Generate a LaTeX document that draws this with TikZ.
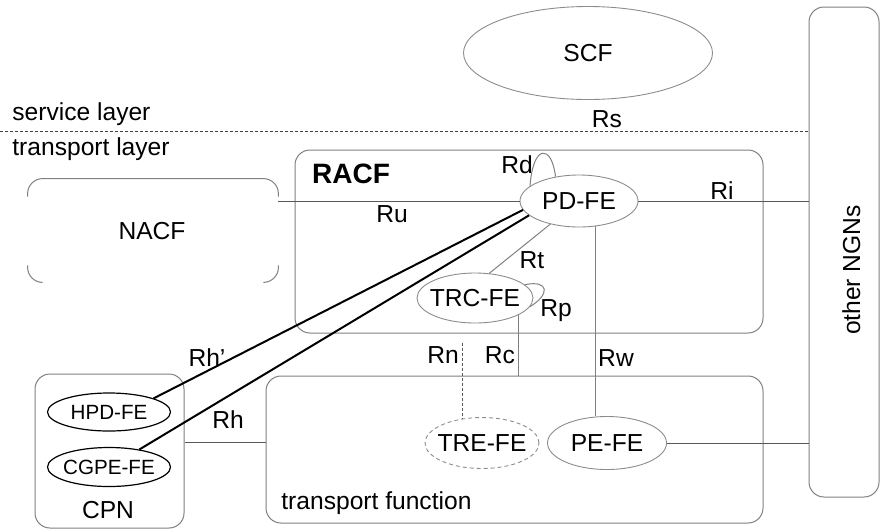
\documentclass[tikz,border=0pt]{standalone}
\usepackage{fontspec}
\setmainfont{Liberation Sans}
\usetikzlibrary{positioning, shapes.geometric}

\begin{document}
\begin{tikzpicture}[
        x=0.5pt, y=-0.5pt,
        % Function blocks (thin gray frame, rounded)
        fbox/.style={
            rectangle, draw=gray, line width=0.5pt,
            rounded corners=7.5pt, inner sep=0pt
        },
        frame/.style={draw=gray, line width=0.5pt, rounded corners=7.5pt},
        % Functional entities
        fe/.style={
            ellipse, draw=gray!90, line width=0.45pt,
            inner xsep=-5pt, inner ysep=0pt,
            font=\fontsize{12.3}{14}\selectfont
        },
        % Entities inside the CPN (black, smaller text)
        cpe/.style={
            ellipse, draw=black, line width=0.6pt,
            inner xsep=-5pt, inner ysep=0pt,
            font=\fontsize{10.3}{12}\selectfont
        },
        % Reference points
        link/.style={draw=black!65, line width=0.5pt},
        thicklink/.style={draw=black, line width=1pt},
        lbl/.style={anchor=base, inner sep=0pt, font=\fontsize{12.3}{14}\selectfont}
    ]
        \useasboundingbox (0,0) rectangle (881,531);

        % Blocks
        \node[fbox, minimum width=35pt, minimum height=245pt] (ngn) at (844,252) {};
        \node[fbox, minimum width=234pt, minimum height=91.5pt] (racf) at (529,241.5) {};
        \node[fbox, minimum width=248.5pt, minimum height=73.5pt] (tf) at (514.5,449.5) {};
        \node[fbox, minimum width=74.5pt, minimum height=77pt] (cpn) at (109.5,451) {};
        \node[minimum width=125pt, minimum height=51.5pt, inner sep=0pt] (nacf) at (153,230.5) {};

        % NACF frame (only partly printed)
        \draw[frame] ([yshift=-9pt]nacf.north west) -- (nacf.north west)
            -- (nacf.north east) -- ([yshift=-9pt]nacf.north east);
        \draw[frame] ([yshift=8.5pt]nacf.south west) -- (nacf.south west)
            -- ([xshift=7.5pt]nacf.south west);
        \draw[frame] ([xshift=-7.5pt]nacf.south east) -- (nacf.south east)
            -- ([yshift=8.5pt]nacf.south east);

        % Layer labels and border
        \node[lbl, anchor=base west] (service) at (12,120) {service layer};
        \node[lbl, anchor=base west] (transport) at (12,155) {transport layer};
        \coordinate (layer) at (0,131);
        \draw[draw=black!75, line width=0.4pt, dash pattern=on 1.5pt off 1pt]
            (layer) -- (layer -| ngn.west);

        % Block names
        \node[lbl, rotate=90] (ngnname) at (860,270) {other NGNs};
        \node[lbl, font=\fontsize{14}{16}\selectfont\bfseries] (racfname) at (351,183) {RACF};
        \node[lbl] (nacfname) at (152,239) {NACF};
        \node[lbl, anchor=base west] (tfname) at (281,509) {transport function};
        \node[lbl] (cpnname) at (108,518) {CPN};

        % Functional entities
        \node[fe, minimum width=124.5pt, minimum height=46.5pt] (scf) at (588,53) {SCF};
        \node[fe, minimum width=59pt, minimum height=26pt] (pdfe) at (579,201) {PD-FE};
        \node[fe, minimum width=58pt, minimum height=25pt] (trcfe) at (475,298) {TRC-FE};
        \node[fe, dash pattern=on 2pt off 1.5pt, minimum width=57pt, minimum height=25.5pt] (trefe) at (482,443) {TRE-FE};
        \node[fe, minimum width=59.5pt, minimum height=26.5pt] (pefe) at (607,443) {PE-FE};
        \node[cpe, minimum width=61.5pt, minimum height=19pt] (hpdfe) at (109,412) {HPD-FE};
        \node[cpe, minimum width=61.5pt, minimum height=19.5pt] (cgpefe) at (109,467) {CGPE-FE};

        % Connections
        \draw[link] (pdfe.west) -- (pdfe.west -| nacf.east);
        \draw[link] (pdfe.east) -- (pdfe.east -| ngn.west);
        \draw[link] (pefe.east) -- (pefe.east -| ngn.west);
        \draw[link, draw=gray] (pdfe) -- (trcfe.60);
        \draw[link, draw=gray] (trcfe.-21) -- (trcfe.-21 |- tf.north);
        \draw[link, draw=gray] (pdfe.-57) -- (pdfe.-57 |- pefe.north);
        \draw[link] ([yshift=4.5pt]cpn.east) -- ([yshift=4.5pt]cpn.east -| tf.west);
        \coordinate (rntop) at (462,343);
        \draw[link, dash pattern=on 1.5pt off 1pt] (rntop) -- (rntop |- trefe.130);
        \draw[thicklink] (hpdfe.17) -- (pdfe.189);
        \draw[thicklink] (cgpefe.30) -- (pdfe.196);

        % Loops
        \draw[link, draw=gray] (pdfe.163) .. controls +(3,-42) and +(-4,-33) .. (pdfe.134);
        \draw[link, draw=gray] (trcfe.15) .. controls +(25,-5) and +(20,-12) .. (trcfe.-9);

        % Reference point names
        \node[lbl] (rs) at (607,127) {Rs};
        \node[lbl] (ru) at (392,222) {Ru};
        \node[lbl] (rd) at (517,173) {Rd};
        \node[lbl] (ri) at (722,199) {Ri};
        \node[lbl] (rt) at (532,268) {Rt};
        \node[lbl] (rp) at (556,316) {Rp};
        \node[lbl] (rc) at (500,363) {Rc};
        \node[lbl] (rn) at (443,363) {Rn};
        \node[lbl] (rw) at (616,366) {Rw};
        \node[lbl] (rhp) at (207,366) {Rh’};
        \node[lbl] (rh) at (228,428) {Rh};

    \end{tikzpicture}
\end{document}
